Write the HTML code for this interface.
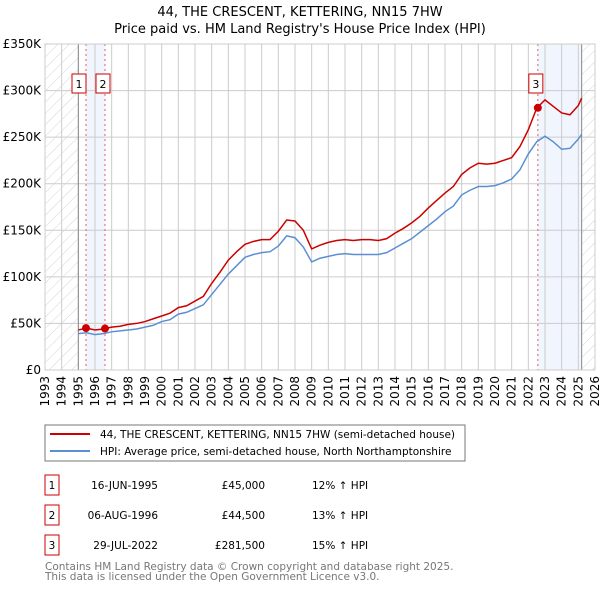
<!DOCTYPE html>
<html><head><meta charset="utf-8"><style>
body{margin:0;background:#fff;font-family:"DejaVu Sans","Liberation Sans",sans-serif;}
</style></head><body>
<svg id="c" width="600" height="590" xmlns="http://www.w3.org/2000/svg" font-family="DejaVu Sans, Liberation Sans, sans-serif">
<defs><pattern id="hatch" width="8" height="8" patternUnits="userSpaceOnUse" patternTransform="rotate(45)"><line x1="0" y1="0" x2="0" y2="8" stroke="#d4d4d4" stroke-width="1"/></pattern></defs>
<text x="300" y="16" text-anchor="middle" font-size="13" fill="#000">44, THE CRESCENT, KETTERING, NN15 7HW</text>
<text x="300" y="33" text-anchor="middle" font-size="13" fill="#000">Price paid vs. HM Land Registry's House Price Index (HPI)</text>
<g id="plot"></g>
<rect x="45" y="425" width="420" height="36" fill="#fff" stroke="#777"/>
<line x1="50" y1="434" x2="90" y2="434" stroke="#cc0000" stroke-width="2"/>
<text x="100" y="438" font-size="10.5">44, THE CRESCENT, KETTERING, NN15 7HW (semi-detached house)</text>
<line x1="50" y1="451" x2="90" y2="451" stroke="#5b8fd4" stroke-width="2"/>
<text x="100" y="455" font-size="10.5">HPI: Average price, semi-detached house, North Northamptonshire</text>
<g id="tbl" font-size="10.5"></g>
<text x="45" y="570" font-size="10.5" fill="#777">Contains HM Land Registry data © Crown copyright and database right 2025.</text>
<text x="45" y="580" font-size="10.5" fill="#777">This data is licensed under the Open Government Licence v3.0.</text>
</svg>
<script>
const years=[1995,1995.5,1996,1996.5,1997,1997.5,1998,1998.5,1999,1999.5,2000,2000.5,2001,2001.5,2002,2002.5,2003,2003.5,2004,2004.5,2005,2005.5,2006,2006.5,2007,2007.5,2008,2008.5,2009,2009.5,2010,2010.5,2011,2011.5,2012,2012.5,2013,2013.5,2014,2014.5,2015,2015.5,2016,2016.5,2017,2017.5,2018,2018.5,2019,2019.5,2020,2020.5,2021,2021.5,2022,2022.5,2023,2023.5,2024,2024.5,2025,2025.2];
const priceSeries=[43,45,43,44,46,47,49,50,52,55,58,61,67,69,74,79,93,105,118,127,135,138,140,140,149,161,160,150,130,134,137,139,140,139,140,140,139,141,147,152,158,165,174,182,190,197,210,217,222,221,222,225,228,240,258,281,290,283,276,274,284,292];
const hpiSeries=[39,40,38,39,41,42,43,44,46,48,52,54,60,62,66,70,81,92,103,112,121,124,126,127,133,144,142,132,116,120,122,124,125,124,124,124,124,126,131,136,141,148,155,162,170,176,188,193,197,197,198,201,205,215,232,245,251,245,237,238,248,253];
const sales=[[1995.46,45],[1996.6,44.5],[2022.57,281.5]];
const yTicks=[0,50,100,150,200,250,300,350];
const yLabels=["£0","£50K","£100K","£150K","£200K","£250K","£300K","£350K"];
const tableDates=["16-JUN-1995","06-AUG-1996","29-JUL-2022"];
const tablePrices=["£45,000","£44,500","£281,500"];
const tableHpi=["12% ↑ HPI","13% ↑ HPI","15% ↑ HPI"];
const NS="http://www.w3.org/2000/svg";
const X0=45,X1=595,Y0=370,Y1=44;
const xs=y=>X0+(y-1993)/(2026-1993)*(X1-X0);
const ys=v=>Y0-v/350*(Y0-Y1);
const g=document.getElementById('plot');
function mk(t,a,p){const e=document.createElementNS(NS,t);for(const k in a)e.setAttribute(k,a[k]);(p||g).appendChild(e);return e;}
let r=mk('rect',{x:X0,y:Y1,width:xs(1995)-X0,height:Y0-Y1,fill:'url(#hatch)'});


r=mk('rect',{x:xs(2025.2),y:Y1,width:X1-xs(2025.2),height:Y0-Y1,fill:'url(#hatch)'});


r=mk('rect',{x:xs(1995.46),y:Y1,width:xs(1996.6)-xs(1995.46),height:Y0-Y1,fill:'#eef3fc',opacity:0.8});


r=mk('rect',{x:xs(2022.57),y:Y1,width:xs(2025.2)-xs(2022.57),height:Y0-Y1,fill:'#eef3fc',opacity:0.8});


for(let y=1993;y<=2026;y++){
 const l=mk('line',{x1:xs(y),x2:xs(y),y1:Y1,y2:Y0,stroke:'#ccc','stroke-width':1});
 
 
 const t=mk('text',{x:0,y:0,'font-size':12,'text-anchor':'end',transform:`translate(${xs(y)+4},376) rotate(-90)`});
 t.textContent=y;
 
 
}
yTicks.forEach((v,i)=>{
 const l=mk('line',{x1:X0,x2:X1,y1:ys(v),y2:ys(v),stroke:'#ccc','stroke-width':1});
 
 
 const t=mk('text',{x:41,y:ys(v)+4,'font-size':12,'text-anchor':'end'});
 t.textContent=yLabels[i];
 
 
});
[1995,2025.2].forEach(y=>{const l=mk('line',{x1:xs(y),x2:xs(y),y1:Y1,y2:Y0,stroke:'#888'});
 
 });
sales.forEach((s,i)=>{
 const l=mk('line',{x1:xs(s[0]),x2:xs(s[0]),y1:Y1,y2:Y0,stroke:'#e06060','stroke-dasharray':'2,3'});
 
 
});
const hp=mk('polyline',{points:years.map((y,i)=>xs(y)+','+ys(hpiSeries[i])).join(' '),fill:'none',stroke:'#5b8fd4','stroke-width':1.5});


const pp=mk('polyline',{points:years.map((y,i)=>xs(y)+','+ys(priceSeries[i])).join(' '),fill:'none',stroke:'#cc0000','stroke-width':1.5});


sales.forEach((s,i)=>{
 const c=mk('circle',{cx:xs(s[0]),cy:ys(s[1]),r:4,fill:'#cc0000'});
 
 
 const b=mk('rect',{x:(i==0?xs(s[0])-14:xs(s[0])-9),y:74,width:14,height:19,fill:'#fff',stroke:'#cc0000'});
 
 
 const t=mk('text',{x:(i==0?xs(s[0])-7:xs(s[0])-2),y:88,'font-size':11,'text-anchor':'middle'});
 t.textContent=i+1;
 
 
});
mk('rect',{x:X0,y:Y1,width:X1-X0,height:Y0-Y1,fill:'none',stroke:'#ccc'});
const tb=document.getElementById('tbl');
tableDates.forEach((d,i)=>{
 const y=485+i*30;
 const b=mk('rect',{x:45,y:y-10,width:14,height:20,fill:'#fff',stroke:'#cc0000'},tb);
 
 
 const n=mk('text',{x:52,y:y+4,'text-anchor':'middle'},tb);n.textContent=i+1;
 
 
 const a=mk('text',{x:158,y:y+4,'text-anchor':'end'},tb);a.textContent=d;
 
 
 const p=mk('text',{x:265,y:y+4,'text-anchor':'end'},tb);p.textContent=tablePrices[i];
 
 
 const h=mk('text',{x:312,y:y+4},tb);h.textContent=tableHpi[i];
 
 
});
</script>
</body></html>
